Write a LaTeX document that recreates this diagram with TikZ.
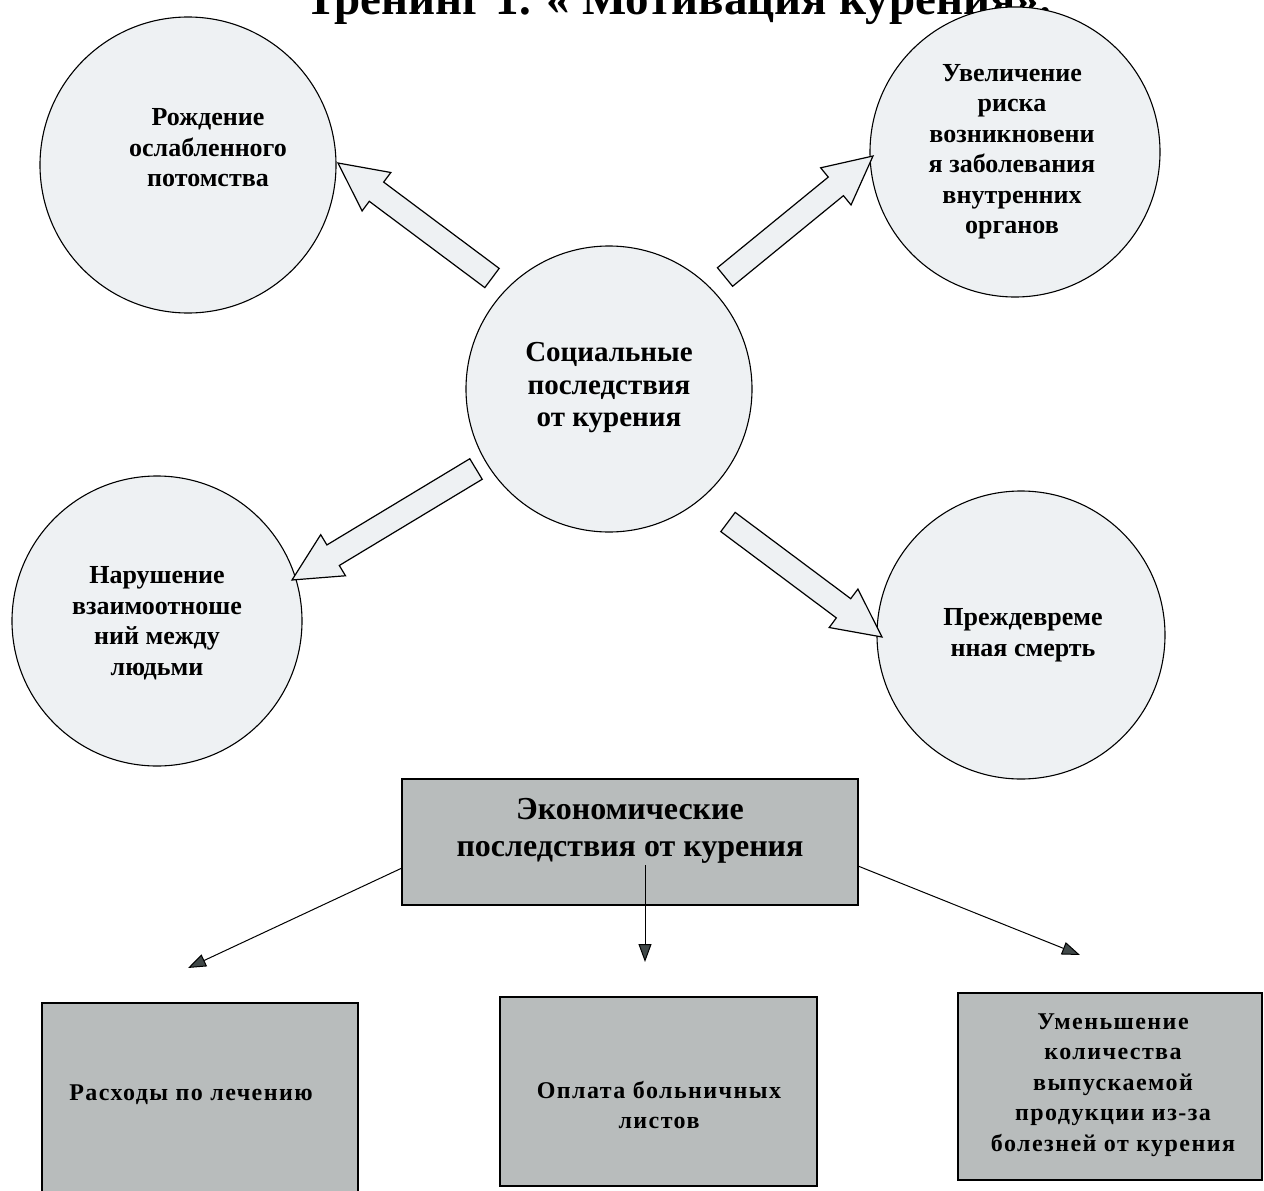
\documentclass[tikz,border=0pt]{standalone}
\usepackage{fontspec}
\setmainfont{Liberation Serif}
\usepackage{tikz}
\usetikzlibrary{arrows.meta}
\usetikzlibrary{calc}

\definecolor{bubble}{RGB}{238,241,243}
\definecolor{boxgray}{RGB}{184,188,188}
\definecolor{tipgray}{RGB}{64,72,72}

\tikzset{
	bubble/.style={circle, draw=black, line width=1.1pt, fill=bubble, inner sep=0pt},
	bubbletext/.style={align=center, font=\bfseries\fontsize{26}{30.5}\selectfont},
	fatarr/.style={draw=black, line width=1.2pt, fill=bubble, line join=miter},
	grayblock/.style={draw=black, line width=1.6pt, fill=boxgray},
	thinarr/.style={draw=black, line width=1pt, -{Triangle[length=18pt, width=13pt, fill=tipgray]}}
}

\newcommand{\fatarrow}[2]{%
	\coordinate (hb) at ($(#2)!48pt!(#1)$);
	\draw[fatarr] ($(#1)!12pt!90:(#2)$) -- ($(hb)!12pt!-90:(#1)$) -- ($(hb)!24pt!-90:(#1)$)
		-- (#2) -- ($(hb)!24pt!90:(#1)$) -- ($(hb)!12pt!90:(#1)$) -- ($(#1)!12pt!-90:(#2)$) -- cycle;}

\begin{document}
\begin{tikzpicture}[x=1pt, y=-1pt]
	\useasboundingbox (0,0) rectangle (1264,1191);
	\clip (0,0) rectangle (1264,1191);

	% title, cut at the top edge
	\node[font=\bfseries\fontsize{47}{52}\selectfont, anchor=base] (title) at (678,14) {Тренинг 1. « Мотивация курения».};

	\begin{scope}[every node/.style={bubble}]
		\node[minimum size=296pt] (tl) at (188,165) {};
		\node[minimum size=290pt] (tr) at (1015,152) {};
		\node[minimum size=286pt] (cen) at (609,389) {};
		\node[minimum size=290pt] (bl) at (157,621) {};
		\node[minimum size=288pt] (br) at (1021,635) {};
	\end{scope}

	\begin{scope}[every node/.style={bubbletext}]
		\node (tltext) at (208,148) {Рождение\\ослабленного\\потомства};
		\node (trtext) at (1012,152) {Увеличение\\риска\\возникновени\\я заболевания\\внутренних\\органов};
		\node[font=\bfseries\fontsize{29}{32.5}\selectfont] (centext) at (609,388) {Социальные\\последствия\\от курения};
		\node (bltext) at (157,623) {Нарушение\\взаимоотноше\\ний между\\людьми};
		\node (brtext) at (1023,635) {Преждевреме\\нная смерть};
	\end{scope}

	% block arrows
	\coordinate (tail1) at (492,278); \coordinate (tip1) at (338,163);
	\coordinate (tail2) at (725,277); \coordinate (tip2) at (873,156);
	\coordinate (tail3) at (476,469); \coordinate (tip3) at (292,580);
	\coordinate (tail4) at (728,522); \coordinate (tip4) at (882,637);
	\fatarrow{tail1}{tip1}
	\fatarrow{tail2}{tip2}
	\fatarrow{tail3}{tip3}
	\fatarrow{tail4}{tip4}

	% economic part
	\draw[grayblock] (402,779) rectangle (858,905);
	\node[align=center, font=\bfseries\fontsize{32}{37}\selectfont] (econ) at (630,831) {Экономические\\последствия от курения};

	\draw[grayblock] (42,1003) rectangle (358,1200);
	\draw[grayblock] (500,997) rectangle (817,1186);
	\draw[grayblock] (958,993) rectangle (1262,1180);

	\begin{scope}[every node/.style={align=center, font=\bfseries\fontsize{24}{30.5}\selectfont\addfontfeature{LetterSpace=6}}]
		\node (cost) at (191,1095) {Расходы по лечению};
		\node (sick) at (659,1105) {Оплата больничных\\листов};
		\node (prod) at (1113,1085) {Уменьшение\\количества\\выпускаемой\\продукции из-за\\болезней от курения};
	\end{scope}

	\coordinate (eleft) at (402,868);
	\coordinate (emid) at (645,865);
	\coordinate (eright) at (858,866);
	\coordinate (tipl) at (188,968);
	\coordinate (tipm) at (645,962);
	\coordinate (tipr) at (1080,955);
	\draw[thinarr] (eleft) -- (tipl);
	\draw[thinarr] (emid) -- (tipm);
	\draw[thinarr] (eright) -- (tipr);
\end{tikzpicture}
\end{document}
